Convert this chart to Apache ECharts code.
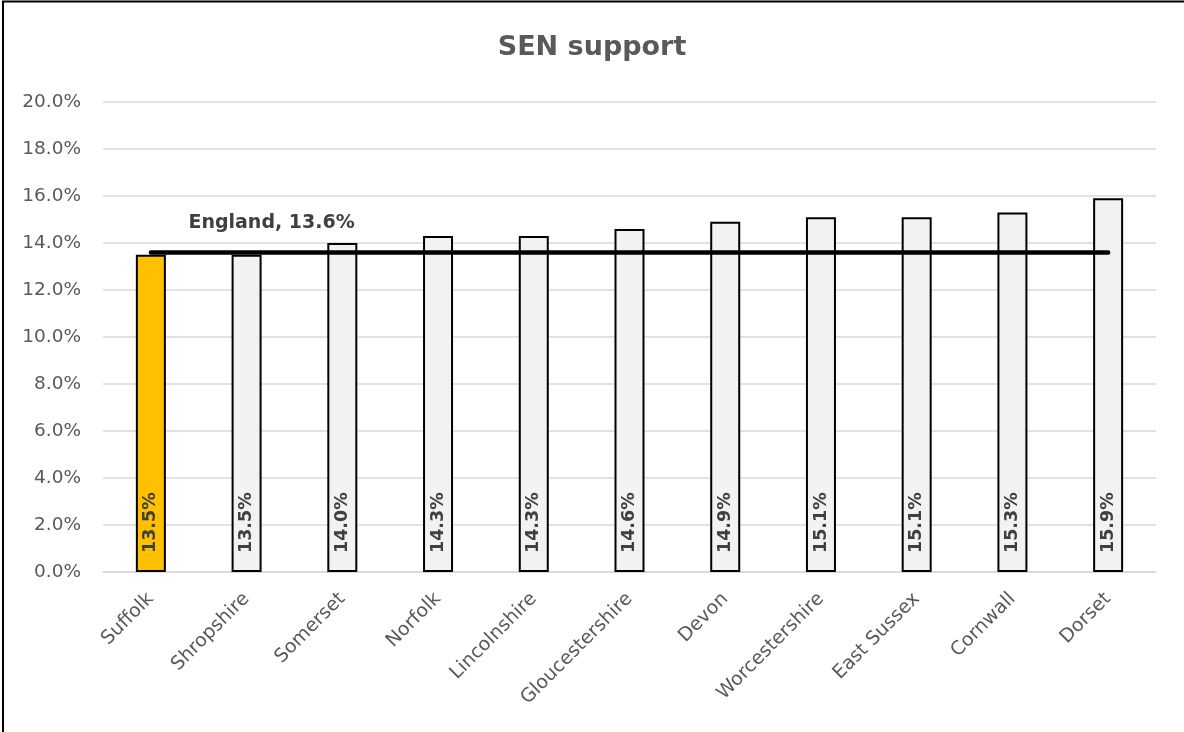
<!DOCTYPE html>
<html>
<head>
<meta charset="utf-8">
<script src="https://cdn.jsdelivr.net/npm/echarts@6/dist/echarts.min.js"></script>
<style>
  html, body { margin: 0; padding: 0; background: #ffffff; }
  #chart { width: 1184px; height: 732px; }
</style>
</head>
<body>
<div id="chart"></div>
<script>
// Share of pupils receiving SEN support, by local authority
const categories = ['Suffolk', 'Shropshire', 'Somerset', 'Norfolk', 'Lincolnshire',
  'Gloucestershire', 'Devon', 'Worcestershire', 'East Sussex', 'Cornwall', 'Dorset'];
const senSupport = [13.5, 13.5, 14.0, 14.3, 14.3, 14.6, 14.9, 15.1, 15.1, 15.3, 15.9];
const englandAverage = 13.6;
const englandLabel = 'England, 13.6%';
const highlighted = 'Suffolk';

const FONT = '"DejaVu Sans", sans-serif';

const chart = echarts.init(document.getElementById('chart'), null, { renderer: 'canvas' });

const barData = senSupport.map((v, i) => ({
  value: v,
  itemStyle: { color: categories[i] === highlighted ? '#FFC000' : '#F2F2F2' }
}));

const englandData = categories.map((c, i) => i === 1
  ? {
      value: englandAverage,
      label: {
        show: true,
        position: 'top',
        distance: 20,
        offset: [25, 0],
        formatter: englandLabel,
        fontFamily: FONT,
        fontWeight: 'bold',
        fontSize: 19,
        color: '#404040'
      }
    }
  : englandAverage);

chart.setOption({
  animation: false,
  backgroundColor: '#ffffff',
  title: {
    text: 'SEN support',
    left: 'center',
    top: 29,
    textStyle: { fontFamily: FONT, fontWeight: 'bold', fontSize: 27, color: '#595959' }
  },
  graphic: [{
    type: 'rect',
    shape: { x: 3, y: 1.5, width: 1300, height: 900 },
    style: { fill: 'none', stroke: '#000000', lineWidth: 2 },
    silent: true,
    z: 100
  }],
  grid: { left: 103, right: 28, top: 102, bottom: 160 },
  xAxis: {
    type: 'category',
    data: categories,
    axisTick: { show: false },
    axisLine: { lineStyle: { color: '#D9D9D9', width: 1.5 } },
    axisLabel: {
      rotate: 45,
      interval: 0,
      margin: 24,
      fontFamily: FONT,
      fontSize: 19,
      color: '#595959'
    }
  },
  yAxis: {
    type: 'value',
    min: 0,
    max: 20,
    interval: 2,
    axisLine: { show: false },
    axisTick: { show: false },
    splitLine: { lineStyle: { color: '#D9D9D9', width: 1.5 } },
    axisLabel: {
      margin: 22,
      fontFamily: FONT,
      fontSize: 18.5,
      color: '#595959',
      formatter: v => v.toFixed(1) + '%'
    }
  },
  series: [
    {
      type: 'bar',
      data: barData,
      barWidth: 30,
      itemStyle: { borderColor: '#000000', borderWidth: 2 },
      label: {
        show: true,
        position: 'insideBottom',
        rotate: 90,
        distance: 19,
        align: 'left',
        verticalAlign: 'middle',
        fontFamily: FONT,
        fontWeight: 'bold',
        fontSize: 17.5,
        color: '#404040',
        formatter: p => p.value.toFixed(1) + '%'
      },
      z: 2
    },
    {
      type: 'line',
      data: englandData,
      symbol: 'circle',
      symbolSize: 0,
      showSymbol: true,
      lineStyle: { color: '#000000', width: 4.5, cap: 'round' },
      itemStyle: { color: '#000000' },
      z: 5
    }
  ]
});
</script>
</body>
</html>
